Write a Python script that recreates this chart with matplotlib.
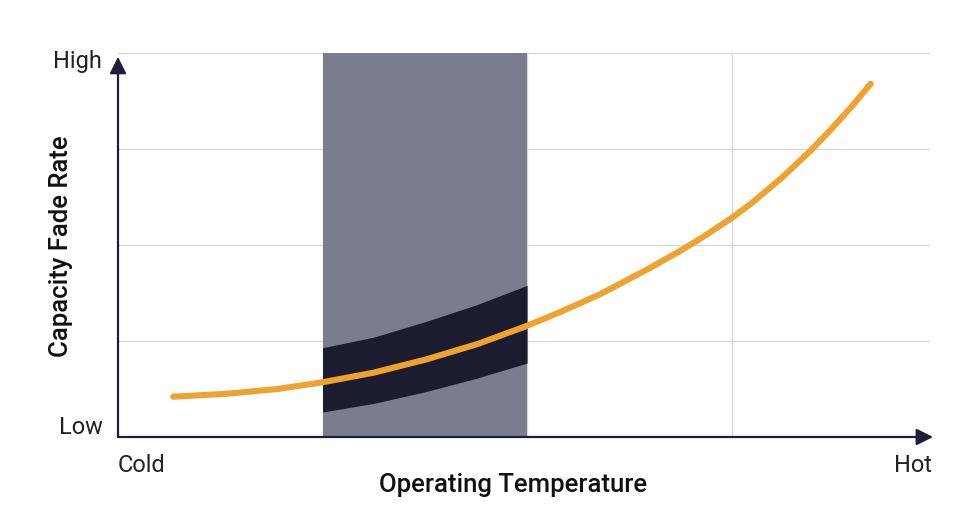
import matplotlib.pyplot as plt

plt.rcParams['font.family'] = ['Roboto', 'DejaVu Sans']

# curve (x: 0..4 cold->hot, y: 0..4 low->high)
curve_x = [0.27, 0.53, 0.78, 1.0, 1.25, 1.51, 1.76, 1.99, 2.16, 2.36, 2.6, 2.75,
           2.85, 3.0, 3.1, 3.24, 3.38, 3.48, 3.59, 3.68]
curve_y = [0.42, 0.45, 0.50, 0.57, 0.67, 0.81, 0.97, 1.15, 1.30, 1.49, 1.76, 1.94,
           2.07, 2.28, 2.44, 2.69, 2.97, 3.19, 3.45, 3.68]

# dark band inside the optimal window
band_x = [1.0, 1.25, 1.5, 1.75, 2.0]
band_hi = [0.93, 1.04, 1.20, 1.375, 1.58]
band_lo = [0.26, 0.35, 0.47, 0.61, 0.77]

window = (1.0, 2.0)

orange = '#f0a22e'
navy = '#1b1c30'
gray = '#7b7c8e'
axis_col = '#1e1f36'
text_col = '#222222'

fig = plt.figure(figsize=(9.79, 5.31), dpi=100)
ax = fig.add_axes([118 / 979, 94 / 531, 812 / 979, 384 / 531])
ax.set_xlim(0, 3.97)
ax.set_ylim(0, 4)

ax.set_xticks([1, 2, 3])
ax.set_yticks([1, 2, 3, 4])
ax.grid(True, color='#d9d9d9', lw=1)
ax.tick_params(length=0, labelbottom=False, labelleft=False)
for s in ax.spines.values():
    s.set_visible(False)

ax.axvspan(window[0], window[1], color=gray, lw=0, zorder=2)
ax.fill_between(band_x, band_lo, band_hi, color=navy, lw=0, zorder=3)
ax.plot(curve_x, curve_y, color=orange, lw=4.4, solid_capstyle='round',
        solid_joinstyle='round', zorder=4)

# axes with arrow heads
arrow = dict(arrowstyle='-|>,head_length=0.5,head_width=0.25', color=axis_col,
             lw=1.6, mutation_scale=20, shrinkA=0, shrinkB=0)
ax.annotate('', xy=(3.985, 0), xytext=(0, 0), arrowprops=arrow, annotation_clip=False, zorder=5)
ax.annotate('', xy=(0, 3.96), xytext=(0, 0), arrowprops=arrow, annotation_clip=False, zorder=5)

ax.text(-0.078, 3.84, 'High', ha='right', va='baseline', fontsize=17, color=text_col)
ax.text(-0.073, 0.03, 'Low', ha='right', va='baseline', fontsize=17, color=text_col)
ax.text(0.0, -0.365, 'Cold', ha='left', va='baseline', fontsize=17, color=text_col)
ax.text(3.98, -0.365, 'Hot', ha='right', va='baseline', fontsize=17, color=text_col)

ax.text(1.93, -0.57, 'Operating Temperature', ha='center', va='baseline',
        fontsize=18.5, fontweight='medium', color='#111111')
ax.text(-0.245, 1.99, 'Capacity Fade Rate', ha='center', va='baseline', rotation=90,
        rotation_mode='anchor', fontsize=18.5, fontweight='medium', color='#111111')

fig.savefig('out.png', dpi=100)
